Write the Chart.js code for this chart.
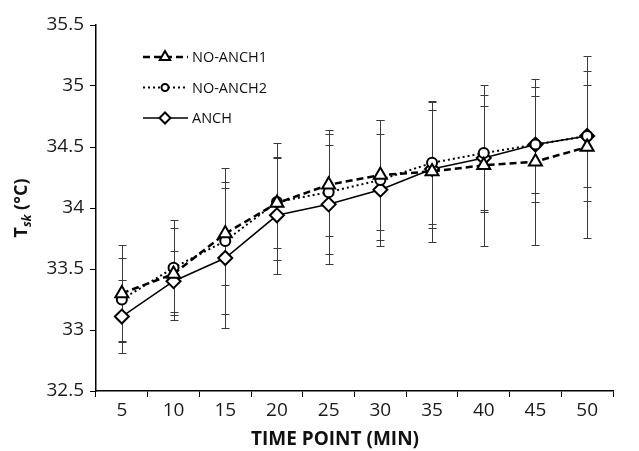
<!DOCTYPE html>
<html>
<head>
<meta charset="utf-8">
<script src="https://cdn.jsdelivr.net/npm/chart.js@4.4.1/dist/chart.umd.min.js"></script>
<style>
  html, body { margin: 0; padding: 0; background: #fff; }
  #c { display: block; }
</style>
</head>
<body>
<canvas id="c" width="639" height="451"></canvas>
<script>
// time points (min)
const timePoints = ['5', '10', '15', '20', '25', '30', '35', '40', '45', '50'];

// mean Tsk (°C) and SD
const noAnch1   = [33.30, 33.46, 33.79, 34.04, 34.19, 34.27, 34.30, 34.35, 34.38, 34.50];
const noAnch1Sd = [0.40, 0.38, 0.42, 0.37, 0.42, 0.45, 0.58, 0.66, 0.68, 0.75];
const noAnch2   = [33.25, 33.51, 33.73, 34.05, 34.13, 34.23, 34.37, 34.45, 34.52, 34.59];
const noAnch2Sd = [0.34, 0.39, 0.60, 0.48, 0.51, 0.49, 0.50, 0.48, 0.40, 0.42];
const anch      = [33.11, 33.40, 33.59, 33.94, 34.03, 34.15, 34.32, 34.41, 34.52, 34.59];
const anchSd    = [0.30, 0.25, 0.57, 0.48, 0.49, 0.46, 0.48, 0.43, 0.47, 0.53];

const yMin = 32.5, yMax = 35.5, yStep = 0.5;

const FONT = '"Open Sans", "DejaVu Sans", sans-serif';

// SD whiskers, drawn under the lines
const errorBars = {
  id: 'errorBars',
  beforeDatasetsDraw(chart) {
    const { ctx, scales: { x, y } } = chart;
    ctx.save();
    ctx.strokeStyle = '#3a3a3a';
    ctx.lineWidth = 1;
    chart.data.datasets.forEach(ds => {
      ds.sd.forEach((s, i) => {
        const px = Math.round(x.getPixelForValue(i)) + 0.5;
        const top = Math.round(y.getPixelForValue(ds.data[i] + s)) + 0.5;
        const bot = Math.round(y.getPixelForValue(ds.data[i] - s)) + 0.5;
        ctx.beginPath();
        ctx.moveTo(px, top); ctx.lineTo(px, bot);
        ctx.moveTo(px - 4, top); ctx.lineTo(px + 4, top);
        ctx.moveTo(px - 4, bot); ctx.lineTo(px + 4, bot);
        ctx.stroke();
      });
    });
    ctx.restore();
  }
};

// legend in the upper left of the plot
const legendBox = {
  id: 'legendBox',
  afterDraw(chart) {
    const ctx = chart.ctx;
    chart.data.datasets.forEach((ds, i) => {
      const y = 57 + i * 30.5;
      ctx.save();
      ctx.strokeStyle = '#000';
      ctx.lineWidth = ds.borderWidth;
      ctx.setLineDash(ds.borderDash || []);
      ctx.beginPath(); ctx.moveTo(143, y); ctx.lineTo(188, y); ctx.stroke();
      ctx.setLineDash([]);
      ctx.fillStyle = '#fff';
      ctx.lineWidth = 2;
      Chart.helpers.drawPoint(ctx, { pointStyle: ds.pointStyle, radius: ds.pointRadius - 1.5, rotation: 0, borderWidth: 2 }, 165, y);
      ctx.fillStyle = '#111';
      ctx.font = '14.5px ' + FONT;
      ctx.textBaseline = 'middle';
      ctx.textAlign = 'left';
      ctx.fillText(ds.label, 192, y + 1);
      ctx.restore();
    });
  }
};

// axis titles (y title needs a subscript)
const axisTitles = {
  id: 'axisTitles',
  afterDraw(chart) {
    const { ctx } = chart;
    ctx.save();
    ctx.fillStyle = '#111';
    ctx.font = 'bold 19px ' + FONT;
    ctx.textAlign = 'center';
    ctx.textBaseline = 'alphabetic';
    ctx.fillText('TIME POINT (MIN)', 335, 445);

    ctx.translate(22, 208);
    ctx.rotate(-Math.PI / 2);
    ctx.textAlign = 'left';
    const big = 'bold 18px ' + FONT, small = 'bold italic 12px ' + FONT;
    ctx.font = big; const wT = ctx.measureText('T').width;
    ctx.font = small; const wS = ctx.measureText('sk').width;
    ctx.font = big; const wR = ctx.measureText(' (°C)').width;
    let x0 = -(wT + wS + wR) / 2;
    const b = 5;
    ctx.font = big; ctx.fillText('T', x0, b); x0 += wT;
    ctx.font = small; ctx.fillText('sk', x0, b + 4); x0 += wS;
    ctx.font = big; ctx.fillText(' (°C)', x0, b);
    ctx.restore();
  }
};

const tickFont = { family: FONT, size: 19 };

new Chart(document.getElementById('c'), {
  type: 'line',
  data: {
    labels: timePoints,
    datasets: [
      {
        label: 'NO-ANCH1', data: noAnch1, sd: noAnch1Sd,
        borderColor: '#000', borderWidth: 2.5, borderDash: [7, 4],
        pointStyle: 'triangle', pointRadius: 7.5, pointBorderWidth: 2,
        pointBackgroundColor: '#fff', pointBorderColor: '#000', tension: 0
      },
      {
        label: 'NO-ANCH2', data: noAnch2, sd: noAnch2Sd,
        borderColor: '#000', borderWidth: 2, borderDash: [2, 3],
        pointStyle: 'circle', pointRadius: 5, pointBorderWidth: 2,
        pointBackgroundColor: '#fff', pointBorderColor: '#000', tension: 0
      },
      {
        label: 'ANCH', data: anch, sd: anchSd,
        borderColor: '#000', borderWidth: 1.5,
        pointStyle: 'rectRot', pointRadius: 7, pointBorderWidth: 2,
        pointBackgroundColor: '#fff', pointBorderColor: '#000', tension: 0
      }
    ]
  },
  options: {
    responsive: false,
    devicePixelRatio: 1,
    animation: false,
    layout: { padding: { left: 0, right: 26, top: 25, bottom: 0 } },
    plugins: { legend: { display: false }, tooltip: { enabled: false } },
    scales: {
      x: {
        offset: true,
        grid: { offset: true, drawOnChartArea: false, tickLength: 6, color: '#000', lineWidth: 1 },
        border: { color: '#000', width: 1.5 },
        ticks: { color: '#1a1a1a', font: tickFont, padding: 2, maxRotation: 0, autoSkip: false },
        afterFit: s => { s.height = 60; }
      },
      y: {
        min: yMin, max: yMax,
        grid: { drawOnChartArea: false, tickLength: 6, color: '#000', lineWidth: 1 },
        border: { color: '#000', width: 1.5 },
        ticks: { stepSize: yStep, color: '#1a1a1a', font: tickFont, padding: 6, callback: v => String(+v.toFixed(1)) },
        afterFit: s => { s.width = 96; }
      }
    }
  },
  plugins: [errorBars, legendBox, axisTitles]
});
</script>
</body>
</html>
